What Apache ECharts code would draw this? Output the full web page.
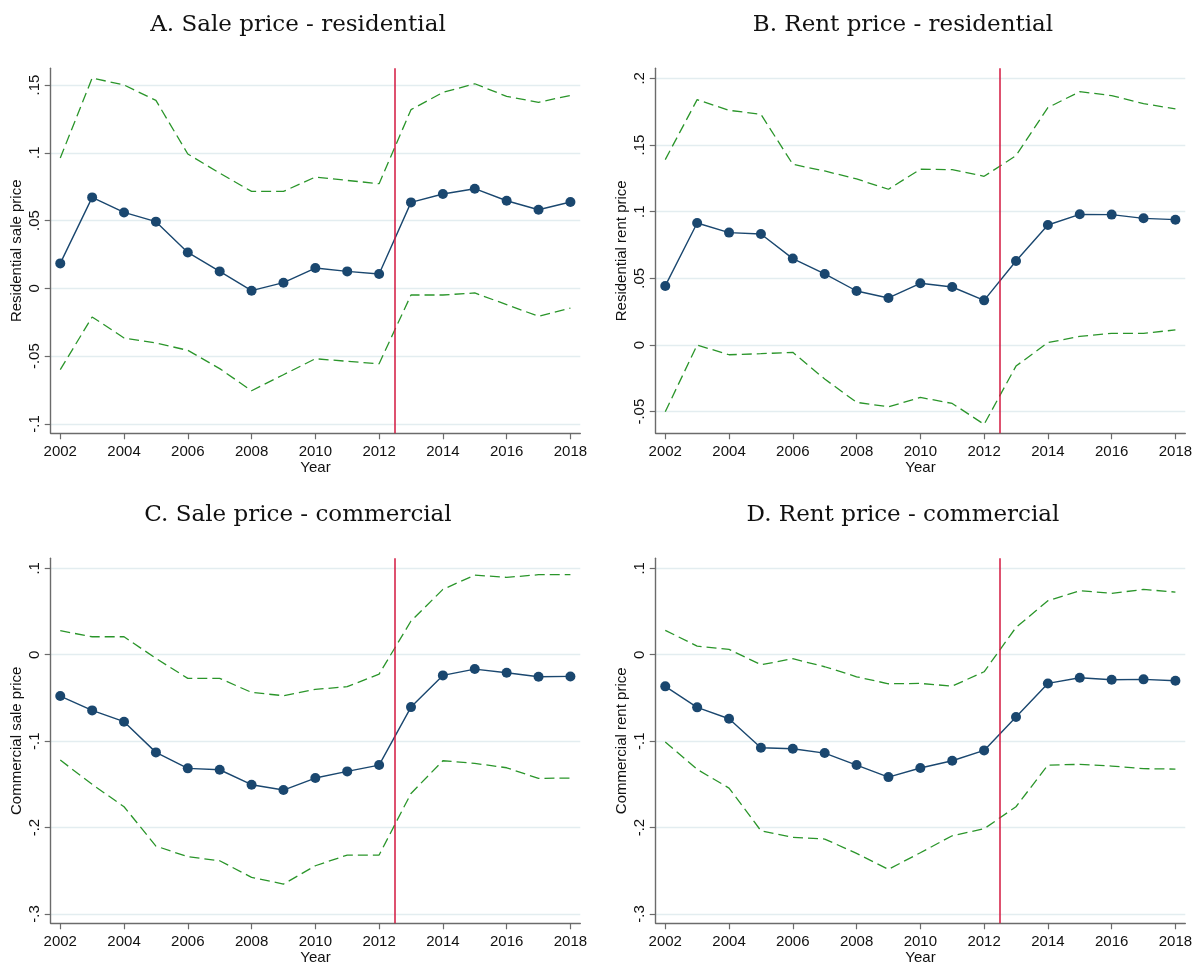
<!DOCTYPE html>
<html>
<head>
<meta charset="utf-8">
<script src="https://cdn.jsdelivr.net/npm/echarts@6/dist/echarts.min.js"></script>
<style>
html,body{margin:0;padding:0;background:#fff;}
#chart{width:1201px;height:969px;}
</style>
</head>
<body>
<div id="chart"></div>
<script>
// ---------- data ----------
const years = [2002,2003,2004,2005,2006,2007,2008,2009,2010,2011,2012,2013,2014,2015,2016,2017,2018];
const yearTicks = [2002,2004,2006,2008,2010,2012,2014,2016,2018];
const treatmentYear = 2012.5;

const panelTitles = ['A. Sale price - residential','B. Rent price - residential','C. Sale price - commercial','D. Rent price - commercial'];
const yAxisTitles = ['Residential sale price','Residential rent price','Commercial sale price','Commercial rent price'];
const xAxisTitle = 'Year';

const yTicksA = [-0.1,-0.05,0,0.05,0.1,0.15];
const yTicksB = [-0.05,0,0.05,0.1,0.15,0.2];
const yTicksC = [-0.3,-0.2,-0.1,0,0.1];
const yTicksD = [-0.3,-0.2,-0.1,0,0.1];

// A. Sale price - residential
const saleResEst   = [0.0184,0.0671,0.0560,0.0492,0.0265,0.0125,-0.0017,0.0042,0.0150,0.0125,0.0106,0.0634,0.0696,0.0735,0.0646,0.0580,0.0637];
const saleResUpper = [0.0961,0.1551,0.1500,0.1386,0.0991,0.0850,0.0715,0.0715,0.0821,0.0796,0.0772,0.1318,0.1445,0.1509,0.1416,0.1372,0.1423];
const saleResLower = [-0.0600,-0.0211,-0.0366,-0.0403,-0.0457,-0.0592,-0.0755,-0.0637,-0.0519,-0.0538,-0.0556,-0.0049,-0.0049,-0.0034,-0.0120,-0.0206,-0.0145];

// B. Rent price - residential
const rentResEst   = [0.0443,0.0915,0.0843,0.0833,0.0648,0.0533,0.0405,0.0353,0.0463,0.0435,0.0335,0.0630,0.0900,0.0980,0.0978,0.0950,0.0940];
const rentResUpper = [0.1390,0.1840,0.1760,0.1730,0.1355,0.1305,0.1245,0.1168,0.1318,0.1315,0.1265,0.1420,0.1780,0.1900,0.1870,0.1810,0.1770];
const rentResLower = [-0.0500,0.0000,-0.0073,-0.0065,-0.0055,-0.0255,-0.0430,-0.0463,-0.0393,-0.0438,-0.0595,-0.0158,0.0018,0.0065,0.0088,0.0088,0.0113];

// C. Sale price - commercial
const saleComEst   = [-0.0478,-0.0644,-0.0775,-0.1130,-0.1315,-0.1331,-0.1504,-0.1566,-0.1427,-0.1350,-0.1277,-0.0606,-0.0239,-0.0166,-0.0208,-0.0255,-0.0251];
const saleComUpper = [0.0278,0.0208,0.0208,-0.0042,-0.0274,-0.0274,-0.0436,-0.0474,-0.0401,-0.0370,-0.0224,0.0390,0.0756,0.0922,0.0895,0.0926,0.0926];
const saleComLower = [-0.1219,-0.1500,-0.1759,-0.2214,-0.2338,-0.2384,-0.2577,-0.2654,-0.2442,-0.2318,-0.2318,-0.1605,-0.1227,-0.1257,-0.1308,-0.1431,-0.1427];

// D. Rent price - commercial
const rentComEst   = [-0.0366,-0.0609,-0.0741,-0.1076,-0.1088,-0.1138,-0.1277,-0.1416,-0.1311,-0.1227,-0.1107,-0.0721,-0.0332,-0.0266,-0.0289,-0.0285,-0.0301];
const rentComUpper = [0.0282,0.0100,0.0062,-0.0116,-0.0046,-0.0139,-0.0255,-0.0336,-0.0332,-0.0363,-0.0197,0.0316,0.0625,0.0741,0.0710,0.0756,0.0725];
const rentComLower = [-0.1011,-0.1327,-0.1543,-0.2037,-0.2114,-0.2133,-0.2299,-0.2484,-0.2291,-0.2095,-0.2014,-0.1759,-0.1277,-0.1269,-0.1288,-0.1319,-0.1323];

// ---------- layout / style ----------
const panels = [
  {est: saleResEst, up: saleResUpper, lo: saleResLower, ticks: yTicksA, yMin: -0.1069, yMax: 0.1623, left: 50.7, top: 68.3, titleX: 293, titleY: 9},
  {est: rentResEst, up: rentResUpper, lo: rentResLower, ticks: yTicksB, yMin: -0.0662, yMax: 0.2075, left: 655.7, top: 68.3, titleX: 898, titleY: 9},
  {est: saleComEst, up: saleComUpper, lo: saleComLower, ticks: yTicksC, yMin: -0.3108, yMax: 0.1116, left: 50.7, top: 558.3, titleX: 293, titleY: 498.5},
  {est: rentComEst, up: rentComUpper, lo: rentComLower, ticks: yTicksD, yMin: -0.3108, yMax: 0.1116, left: 655.7, top: 558.3, titleX: 898, titleY: 498.5}
];
const plotW = 529.6, plotH = 365;
const navy = '#1a476f', green = '#2a952a', red = '#d3173f';
const axisColor = '#6b6b6b', gridColor = '#e3edf0';
const sans = '"Liberation Sans", Arial, sans-serif';
const serif = '"DejaVu Serif", serif';

function stataNum(v){
  if (Math.abs(v) < 1e-12) return '0';
  let s = String(Math.abs(+v.toFixed(4))).replace(/^0/, '');
  return (v < 0 ? '-' : '') + s;
}
function pairs(arr){ return years.map((y,i)=>[y, arr[i]]); }

const option = {
  animation: false,
  backgroundColor: '#fff',
  title: [], grid: [], xAxis: [], yAxis: [], series: []
};

panels.forEach((p, k) => {
  option.title.push({
    text: panelTitles[k], left: p.titleX, top: p.titleY, textAlign: 'center',
    textStyle: {fontFamily: serif, fontSize: 23, fontWeight: 'normal', color: '#111'}
  });
  option.grid.push({left: p.left, top: p.top, width: plotW, height: plotH, containLabel: false});
  option.xAxis.push({
    type: 'value', gridIndex: k, min: 2001.7, max: 2018.31,
    name: xAxisTitle, nameLocation: 'middle', nameGap: 27,
    nameTextStyle: {fontFamily: sans, fontSize: 15, color: '#111'},
    axisLine: {show: true, onZero: false, lineStyle: {color: axisColor, width: 1.4}},
    axisTick: {show: true, length: 6, customValues: yearTicks, lineStyle: {color: axisColor, width: 1.2}},
    axisLabel: {customValues: yearTicks, margin: 11, fontFamily: sans, fontSize: 15, color: '#111', formatter: v => String(v)},
    splitLine: {show: false}
  });
  option.yAxis.push({
    type: 'value', gridIndex: k, min: p.yMin, max: p.yMax,
    name: yAxisTitles[k], nameLocation: 'middle', nameGap: 26, nameRotate: 90,
    nameTextStyle: {fontFamily: sans, fontSize: 15, color: '#111'},
    axisLine: {show: true, onZero: false, lineStyle: {color: axisColor, width: 1.4}},
    axisTick: {show: true, length: 6, customValues: p.ticks, lineStyle: {color: axisColor, width: 1.2}},
    axisLabel: {customValues: p.ticks, rotate: 90, margin: 8, fontFamily: sans, fontSize: 15, color: '#111', formatter: stataNum},
    splitLine: {show: true, lineStyle: {color: gridColor, width: 1.3}}
  });
  const dash = {color: green, width: 1.3, type: [10, 5]};
  option.series.push({
    type: 'line', xAxisIndex: k, yAxisIndex: k, data: pairs(p.up),
    showSymbol: false, symbol: 'none', lineStyle: dash, silent: true
  });
  option.series.push({
    type: 'line', xAxisIndex: k, yAxisIndex: k, data: pairs(p.lo),
    showSymbol: false, symbol: 'none', lineStyle: dash, silent: true
  });
  option.series.push({
    type: 'line', xAxisIndex: k, yAxisIndex: k, data: pairs(p.est),
    symbol: 'circle', symbolSize: 10, showSymbol: true,
    itemStyle: {color: navy}, lineStyle: {color: navy, width: 1.4}, silent: true,
    markLine: {
      silent: true, symbol: ['none','none'], animation: false,
      label: {show: false},
      lineStyle: {color: red, width: 1.5, type: 'solid'},
      data: [{xAxis: treatmentYear}]
    }
  });
});

const chart = echarts.init(document.getElementById('chart'), null, {renderer: 'canvas'});
chart.setOption(option);
</script>
</body>
</html>
